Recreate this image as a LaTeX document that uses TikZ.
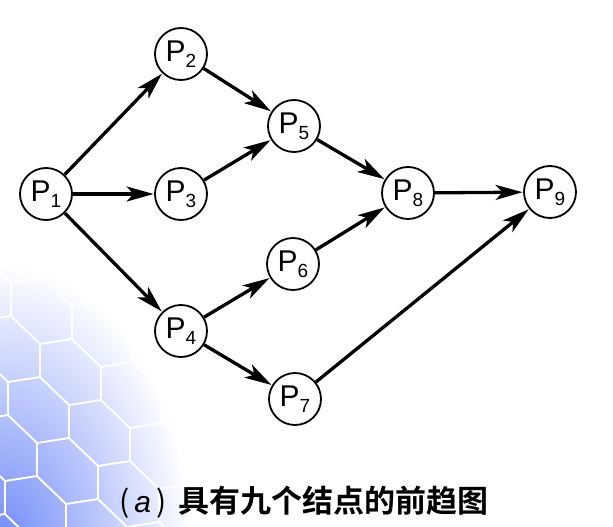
\documentclass[tikz,border=0pt]{standalone}
\usepackage{fontspec}
\setmainfont{Liberation Sans}
\newfontfamily\cjkfont{Noto Sans CJK SC}[BoldFont={* Bold}]
\usetikzlibrary{arrows.meta}
\definecolor{hexblue}{RGB}{112,138,248}
\tikzset{
  pnode/.style={circle,draw,line width=1.8pt,minimum size=52pt,inner sep=0pt,fill=white},
  conn/.style={line width=3.3pt,-{Stealth[length=27pt,width=15pt,inset=7pt]},shorten >=0.5pt},
  hexline/.style={white,line width=1.6pt},
  captext/.style={inner sep=0pt,anchor=base west}
}
\newcommand{\plab}[1]{{\fontsize{30}{30}\selectfont P}\raisebox{-6pt}{\fontsize{19}{19}\selectfont #1}}
\begin{document}
\begin{tikzpicture}[x=1pt,y=-1pt]
\useasboundingbox (0,0) rectangle (613,527);
% background hexagon pattern
\begin{scope}
\clip (0,0) rectangle (613,527);
\shade[inner color=hexblue,outer color=white,xscale=0.68] (0,545) circle (280);
\foreach \i in {-3,...,5}{
  \foreach \j in {-1,...,6}{
    \draw[hexline] (\i*61+\j*29-50, \i*23+\j*61+260) -- ++(32,-5) -- ++(29,28) -- ++(0,33) -- ++(-32,5) -- ++(-29,-28) -- cycle;
  }
}
\end{scope}
% nodes
\node[pnode] (p1) at (46,194) {\plab{1}};
\node[pnode] (p2) at (181,54) {\plab{2}};
\node[pnode] (p3) at (181,194) {\plab{3}};
\node[pnode] (p4) at (181,331) {\plab{4}};
\node[pnode] (p5) at (294,126) {\plab{5}};
\node[pnode] (p6) at (293,264) {\plab{6}};
\node[pnode] (p7) at (295,399) {\plab{7}};
\node[pnode] (p8) at (408,193) {\plab{8}};
\node[pnode] (p9) at (550,192) {\plab{9}};
% connectors
\draw[conn] (p1) -- (p2);
\draw[conn] (p1) -- (p3);
\draw[conn] (p1) -- (p4);
\draw[conn] (p2) -- (p5);
\draw[conn] (p3) -- (p5);
\draw[conn] (p4) -- (p6);
\draw[conn] (p4) -- (p7);
\draw[conn] (p5) -- (p8);
\draw[conn] (p6) -- (p8);
\draw[conn] (p8) -- (p9);
\draw[conn] (p7) -- (p9);
% caption
\node[captext] (capa) at (119,512) {\fontsize{30}{30}\selectfont\cjkfont (\,\textit{\fontspec{Liberation Sans}a}\,)};
\node[captext] (capb) at (178,512) {\fontsize{31}{31}\selectfont\cjkfont\bfseries 具有九个结点的前趋图};
\end{tikzpicture}
\end{document}
